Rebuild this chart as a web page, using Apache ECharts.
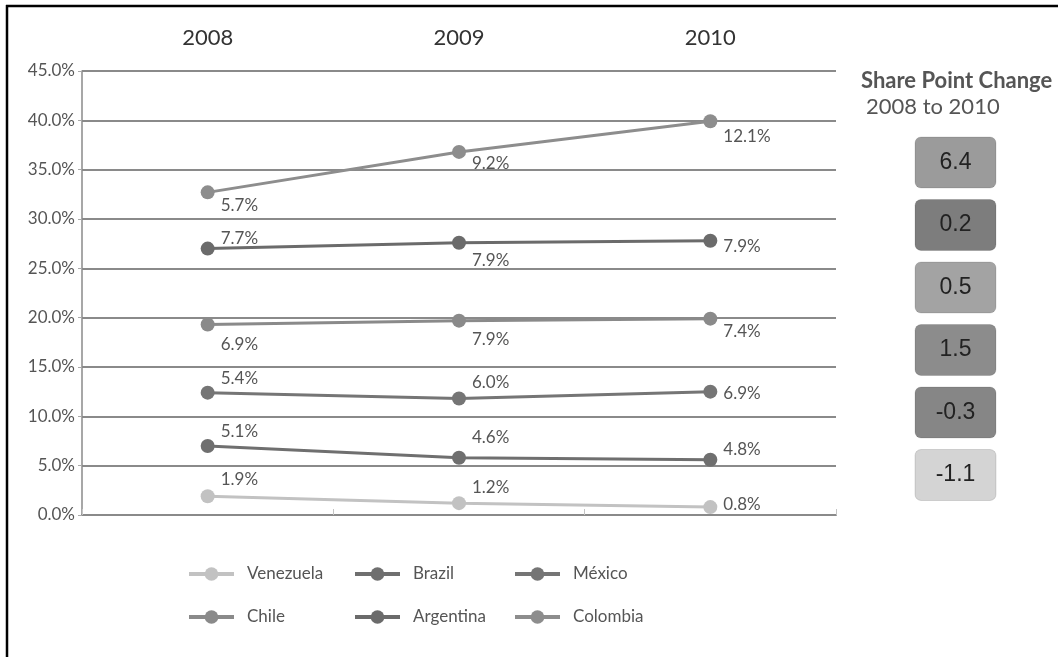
<!DOCTYPE html>
<html>
<head>
<meta charset="utf-8">
<script src="https://cdn.jsdelivr.net/npm/echarts@6/dist/echarts.min.js"></script>
<style>
  html, body { margin: 0; padding: 0; background: #fff; }
  #chart { width: 1058px; height: 657px; }
</style>
</head>
<body>
<div id="chart"></div>
<script>
// Market share by country (%), stacked
const years = ['2008', '2009', '2010'];
const countries = ['Venezuela', 'Brazil', 'México', 'Chile', 'Argentina', 'Colombia'];
const venezuela = [1.9, 1.2, 0.8];
const brazil    = [5.1, 4.6, 4.8];
const mexico    = [5.4, 6.0, 6.9];
const chile     = [6.9, 7.9, 7.4];
const argentina = [7.7, 7.9, 7.9];
const colombia  = [5.7, 9.2, 12.1];
const seriesValues = [venezuela, brazil, mexico, chile, argentina, colombia];

// Styling
const FONT = 'Lato, "Open Sans", sans-serif';
const lineColors = ['#c2c2c2', '#6f6f6f', '#757575', '#8a8a8a', '#6b6b6b', '#8d8d8d'];
const boxColors  = ['#d4d4d4', '#868686', '#8c8c8c', '#a3a3a3', '#7d7d7d', '#9b9b9b'];
// vertical shift of each value label, per country and year
const labelShift = [
  [-17, -16, -3],
  [-14, -20, -10],
  [-14, -16, 2],
  [20, 19, 13],
  [-10, 18, 6],
  [13, 12, 15]
];

const series = countries.map((name, i) => ({
  name: name,
  type: 'line',
  stack: 'share',
  symbol: 'circle',
  symbolSize: 14,
  color: lineColors[i],
  lineStyle: { width: 3, color: lineColors[i] },
  itemStyle: { color: lineColors[i] },
  emphasis: { disabled: true },
  z: 3,
  label: {
    show: true,
    position: 'right',
    distance: 6,
    color: '#555',
    fontFamily: FONT,
    fontSize: 17,
    formatter: p => Number(p.value).toFixed(1) + '%'
  },
  data: seriesValues[i].map((v, j) => ({
    value: v,
    label: { offset: [0, labelShift[i][j]] }
  }))
}));

// Share point change panel, top row = top series
const graphic = [
  { type: 'line', shape: { x1: 7, y1: 5, x2: 7, y2: 657 }, style: { stroke: '#000', lineWidth: 2.5 } },
  { type: 'line', shape: { x1: 6, y1: 6, x2: 1058, y2: 6 }, style: { stroke: '#000', lineWidth: 2.5 } },
  { type: 'text', left: 861, top: 70, style: { text: 'Share Point Change', font: 'bold 22px ' + FONT, fill: '#555' } },
  { type: 'text', left: 866, top: 96, style: { text: '2008 to 2010', font: '22px ' + FONT, fill: '#555' } }
];
const order = countries.map((_, i) => i).reverse();
order.forEach((ci, row) => {
  const vals = seriesValues[ci];
  const change = (vals[vals.length - 1] - vals[0]).toFixed(1);
  const y = 137 + row * 62.5;
  graphic.push({
    type: 'rect',
    shape: { x: 915, y: y, width: 81, height: 51, r: 6 },
    style: { fill: boxColors[ci], stroke: 'rgba(0,0,0,0.12)', lineWidth: 1 }
  });
  graphic.push({
    type: 'text',
    x: 955.5, y: y + 25.5,
    style: {
      text: change,
      font: '23px "Liberation Sans", Arial, sans-serif',
      fill: '#222',
      align: 'center',
      verticalAlign: 'middle'
    }
  });
});

const legendBase = {
  orient: 'vertical',
  top: 559,
  itemWidth: 45,
  itemHeight: 17,
  itemGap: 23,
  selectedMode: false,
  lineStyle: { width: 4 },
  textStyle: { fontFamily: FONT, fontSize: 17, color: '#555', padding: [0, 0, 0, 8], lineHeight: 20 }
};

const chart = echarts.init(document.getElementById('chart'));
chart.setOption({
  animation: false,
  backgroundColor: '#fff',
  grid: { left: 82, right: 222, top: 71, bottom: 142 },
  xAxis: {
    type: 'category',
    position: 'top',
    data: years,
    boundaryGap: true,
    axisLine: { show: true, lineStyle: { color: '#8a8a8a', width: 2 } },
    axisTick: { show: true, length: 6, lineStyle: { color: '#c4c4c4', width: 1 } },
    axisLabel: { fontFamily: FONT, fontSize: 22, color: '#333', margin: 22 }
  },
  yAxis: {
    type: 'value',
    min: 0,
    max: 45,
    interval: 5,
    axisLine: { show: true, lineStyle: { color: '#8a8a8a', width: 1.5 } },
    axisTick: { show: true, length: 4, lineStyle: { color: '#aaa' } },
    splitLine: { show: true, lineStyle: { color: '#8a8a8a', width: 2 } },
    axisLabel: {
      fontFamily: FONT, fontSize: 17, color: '#555', margin: 7,
      formatter: v => v.toFixed(1) + '%'
    }
  },
  legend: [
    Object.assign({}, legendBase, { left: 182, data: ['Venezuela', 'Chile'] }),
    Object.assign({}, legendBase, { left: 348, data: ['Brazil', 'Argentina'] }),
    Object.assign({}, legendBase, { left: 508, data: ['México', 'Colombia'] })
  ],
  graphic: graphic,
  series: series
});
</script>
</body>
</html>
